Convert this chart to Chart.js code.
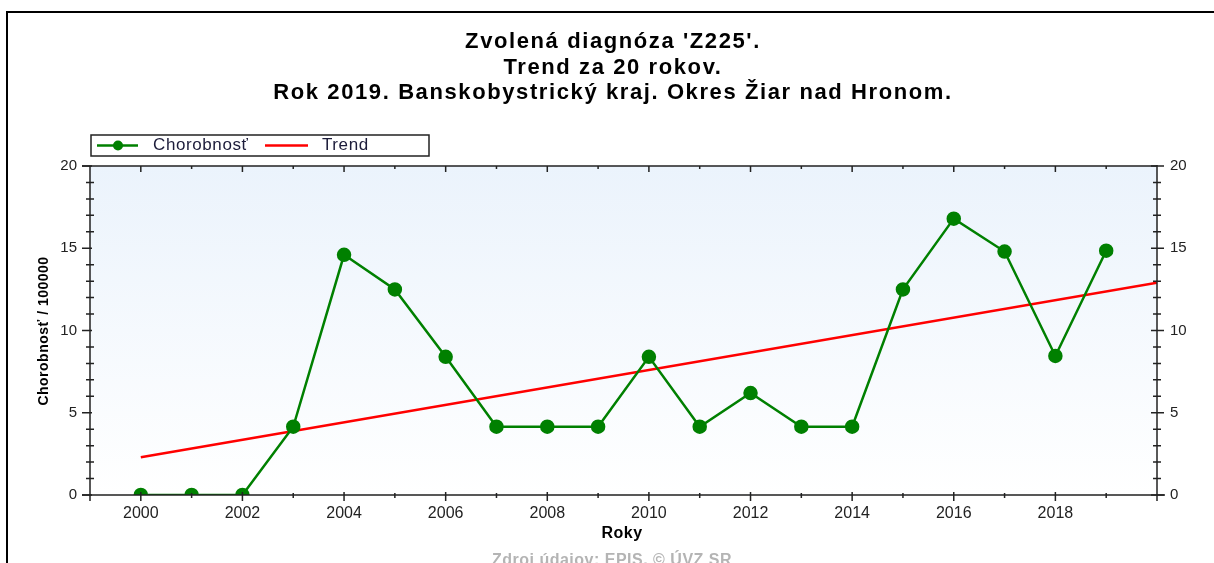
<!DOCTYPE html>
<html>
<head>
<meta charset="utf-8">
<script src="https://cdn.jsdelivr.net/npm/chart.js@4"></script>
<style>
  html, body { margin: 0; padding: 0; background: #fff; }
  #wrap { width: 1214px; height: 563px; position: relative; }
</style>
</head>
<body>
<div id="wrap"><canvas id="trendChart" width="1214" height="563"></canvas></div>
<script>
// data
const years = [2000, 2001, 2002, 2003, 2004, 2005, 2006, 2007, 2008, 2009,
  2010, 2011, 2012, 2013, 2014, 2015, 2016, 2017, 2018, 2019];
const chorobnost = [0, 0, 0, 4.15, 14.6, 12.5, 8.4, 4.15, 4.15, 4.15,
  8.4, 4.15, 6.2, 4.15, 4.15, 12.5, 16.8, 14.8, 8.45, 14.85];
const trendYears = [2000, 2020];
const trendValues = [2.3, 12.9];
const yTicks = [0, 5, 10, 15, 20];
const titleLines = [
  "Zvolená diagnóza 'Z225'.",
  "Trend za 20 rokov.",
  "Rok 2019. Banskobystrický kraj. Okres Žiar nad Hronom."
];

const FONT = "'Liberation Sans', Arial, sans-serif";

// gradient behind the plot area
const bgPlugin = {
  id: "bg",
  beforeDraw(chart) {
    const { ctx, chartArea: a } = chart;
    const g = ctx.createLinearGradient(0, a.top, 0, a.bottom);
    g.addColorStop(0, "#ebf3fc");
    g.addColorStop(1, "#ffffff");
    ctx.save();
    ctx.fillStyle = g;
    ctx.fillRect(a.left, a.top, a.right - a.left, a.bottom - a.top);
    ctx.restore();
  }
};

// frame, axes, tick marks, titles and legend
const decoPlugin = {
  id: "deco",
  afterDraw(chart) {
    const { ctx, chartArea: a } = chart;
    const xs = chart.scales.x, ys = chart.scales.y;
    ctx.save();

    // outer frame
    ctx.strokeStyle = "#000";
    ctx.lineWidth = 2;
    ctx.beginPath();
    ctx.moveTo(7, 563);
    ctx.lineTo(7, 12);
    ctx.lineTo(1214, 12);
    ctx.stroke();

    // axis lines
    ctx.strokeStyle = "#222";
    ctx.lineWidth = 1.5;
    ctx.beginPath();
    ctx.moveTo(a.left - 8, a.top); ctx.lineTo(a.right, a.top);
    ctx.moveTo(a.left - 8, a.bottom); ctx.lineTo(a.right + 8, a.bottom);
    ctx.moveTo(a.left, a.top); ctx.lineTo(a.left, a.bottom + 6);
    ctx.moveTo(a.right, a.top - 1); ctx.lineTo(a.right, a.bottom + 6);
    ctx.stroke();

    // tick marks
    ctx.beginPath();
    for (let v = 0; v <= 20; v++) {
      const py = ys.getPixelForValue(v);
      if (v % 5 === 0) {
        ctx.moveTo(a.left - 8, py); ctx.lineTo(a.left + 2, py);
        ctx.moveTo(a.right - 6, py); ctx.lineTo(a.right + 7, py);
      } else {
        ctx.moveTo(a.left - 4, py); ctx.lineTo(a.left + 4, py);
        ctx.moveTo(a.right - 4, py); ctx.lineTo(a.right + 4, py);
      }
    }
    for (let yr = 2000; yr <= 2019; yr++) {
      const px = xs.getPixelForValue(yr);
      if (yr % 2 === 0) {
        ctx.moveTo(px, a.bottom - 3); ctx.lineTo(px, a.bottom + 6);
        ctx.moveTo(px, a.top); ctx.lineTo(px, a.top + 6);
      } else {
        ctx.moveTo(px, a.bottom - 2); ctx.lineTo(px, a.bottom + 3);
        ctx.moveTo(px, a.top); ctx.lineTo(px, a.top + 3);
      }
    }
    ctx.stroke();

    // title
    ctx.fillStyle = "#000";
    ctx.textAlign = "center";
    ctx.textBaseline = "middle";
    ctx.font = "bold 22px " + FONT;
    ctx.letterSpacing = "1.6px";
    titleLines.forEach((t, i) => ctx.fillText(t, 613, 42 + i * 25.5));

    // axis titles
    ctx.letterSpacing = "0.5px";
    ctx.font = "bold 16px " + FONT;
    ctx.fillText("Roky", 622, 534);
    ctx.save();
    ctx.translate(44, 331);
    ctx.rotate(-Math.PI / 2);
    ctx.font = "bold 14px " + FONT;
    ctx.fillText("Chorobnosť / 100000", 0, 0);
    ctx.restore();

    // source line, cut off by the page edge
    ctx.fillStyle = "#b4b4b4";
    ctx.font = "bold 16px " + FONT;
    ctx.textBaseline = "top";
    ctx.fillText("Zdroj údajov: EPIS, © ÚVZ SR", 612, 553);

    // legend box
    ctx.letterSpacing = "0px";
    ctx.strokeStyle = "#222";
    ctx.lineWidth = 1.5;
    ctx.strokeRect(91, 135, 338, 21);
    const ds = chart.data.datasets;
    ctx.lineWidth = 2.5;
    ctx.strokeStyle = ds[0].borderColor;
    ctx.beginPath(); ctx.moveTo(97, 145.5); ctx.lineTo(138, 145.5); ctx.stroke();
    ctx.fillStyle = ds[0].pointBackgroundColor;
    ctx.beginPath(); ctx.arc(118, 145.5, 5, 0, Math.PI * 2); ctx.fill();
    ctx.strokeStyle = ds[1].borderColor;
    ctx.beginPath(); ctx.moveTo(265, 145.5); ctx.lineTo(308, 145.5); ctx.stroke();
    ctx.fillStyle = "#1c1c3a";
    ctx.textAlign = "left";
    ctx.textBaseline = "middle";
    ctx.font = "17px " + FONT;
    ctx.letterSpacing = "0.6px";
    ctx.fillText(ds[0].label, 153, 145.5);
    ctx.fillText(ds[1].label, 322, 145.5);

    ctx.restore();
  }
};

new Chart(document.getElementById("trendChart"), {
  type: "line",
  data: {
    datasets: [
      {
        label: "Chorobnosť",
        data: years.map((y, i) => ({ x: y, y: chorobnost[i] })),
        borderColor: "#008000",
        backgroundColor: "#008000",
        pointBackgroundColor: "#008000",
        pointBorderColor: "#008000",
        borderWidth: 2.5,
        pointRadius: 6,
        tension: 0
      },
      {
        label: "Trend",
        data: trendYears.map((y, i) => ({ x: y, y: trendValues[i] })),
        borderColor: "#ff0000",
        borderWidth: 2.5,
        pointRadius: 0,
        tension: 0
      }
    ]
  },
  options: {
    responsive: false,
    animation: false,
    layout: { padding: { top: 166, left: 0, right: 0, bottom: 0 } },
    plugins: {
      legend: { display: false },
      tooltip: { enabled: false }
    },
    scales: {
      x: {
        type: "linear",
        min: 1999,
        max: 2020,
        grid: { display: false, drawTicks: false },
        border: { display: false },
        afterFit(s) { s.height = 68; },
        ticks: {
          stepSize: 1,
          autoSkip: false,
          maxRotation: 0,
          padding: 9,
          color: "#222",
          font: { family: FONT, size: 16 },
          callback: (v) => (v % 2 === 0 && v < 2020 ? String(v) : "")
        }
      },
      y: {
        position: "left",
        min: 0,
        max: 20,
        grid: { display: false, drawTicks: false },
        border: { display: false },
        afterFit(s) { s.width = 90; },
        afterBuildTicks(s) { s.ticks = yTicks.map((v) => ({ value: v })); },
        ticks: { padding: 13, color: "#222", font: { family: FONT, size: 15 } }
      },
      y2: {
        position: "right",
        min: 0,
        max: 20,
        grid: { display: false, drawTicks: false },
        border: { display: false },
        afterFit(s) { s.width = 57; },
        afterBuildTicks(s) { s.ticks = yTicks.map((v) => ({ value: v })); },
        ticks: { padding: 13, color: "#222", font: { family: FONT, size: 15 } }
      }
    }
  },
  plugins: [bgPlugin, decoPlugin]
});
</script>
</body>
</html>
